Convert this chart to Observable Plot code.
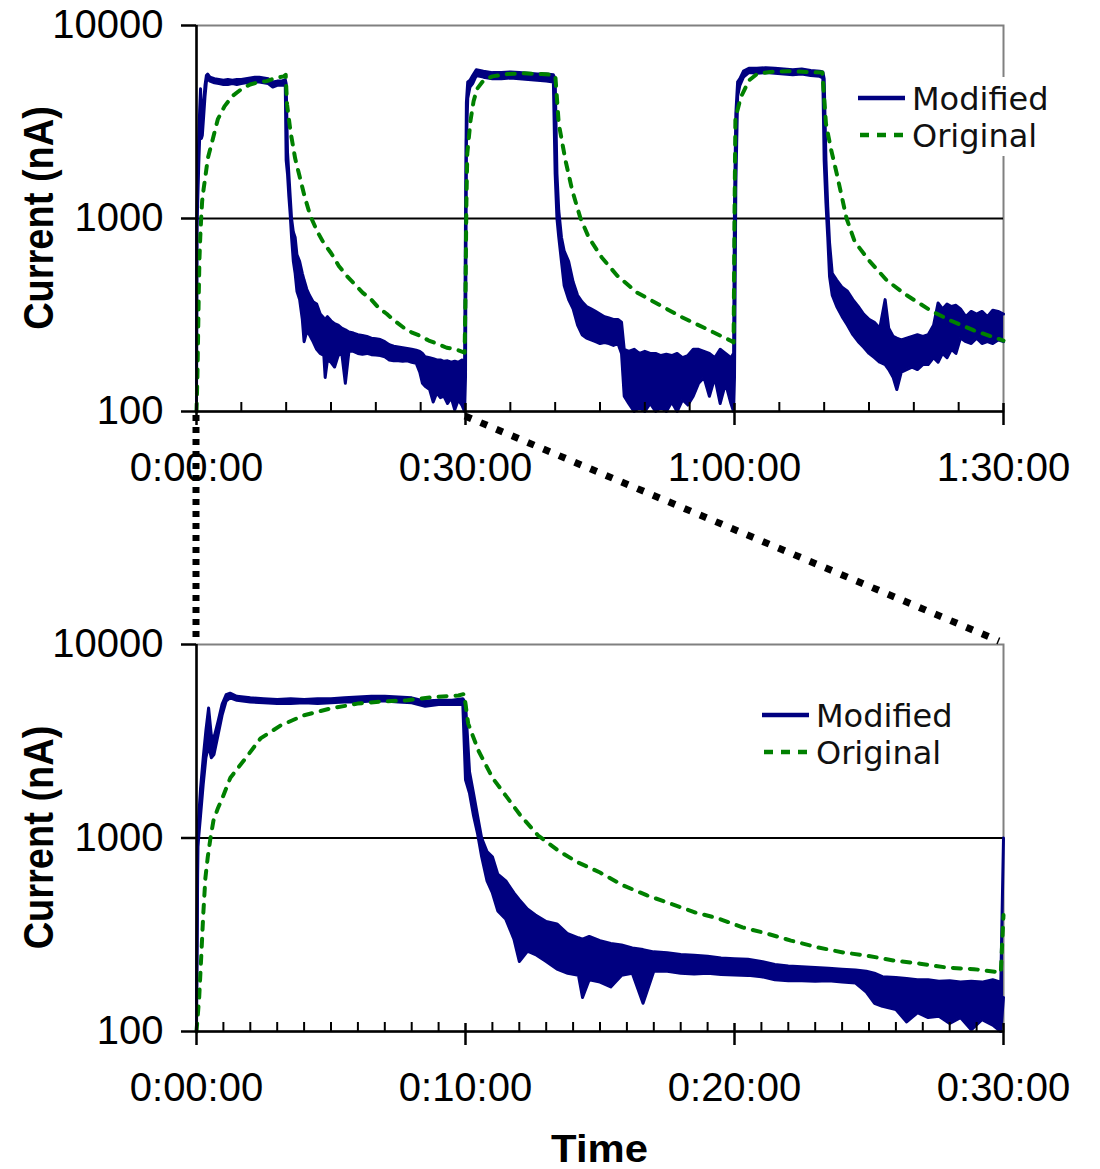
<!DOCTYPE html>
<html>
<head>
<meta charset="utf-8">
<script src="https://cdn.jsdelivr.net/npm/d3@7"></script>
<script src="https://cdn.jsdelivr.net/npm/@observablehq/plot@0.6"></script>
<style>
  html, body { margin: 0; padding: 0; background: #fff; }
  #wrap { position: relative; width: 1100px; height: 1169px; overflow: hidden; background: #fff; }
  #wrap > svg { display: block; }
  #overlay { position: absolute; left: 0; top: 0; pointer-events: none; }
</style>
</head>
<body>
<div id="wrap"></div>
<script>
// ---------------- DATA (time in minutes, current in nA) ----------------
// "Modified" signal is very noisy: stored as a low / high envelope
const modT = [
  0, 0.05, 0.15, 0.25, 0.35, 0.45, 0.55, 0.65, 0.8, 0.95, 1.1, 1.25, 1.5, 2, 2.5, 3, 3.5, 4, 4.5, 5,
  5.5, 6, 6.5, 7, 7.5, 8, 8.5, 9, 9.5, 9.9,
  10, 10.15, 10.3, 10.45, 10.6, 10.8, 11, 11.2, 11.5, 11.8, 12, 12.3, 12.6, 13, 13.4, 13.8, 14.2, 14.35,
  14.6, 15, 15.4, 15.8, 16.2, 16.6, 17, 17.5, 18, 18.5, 19, 19.5, 20, 20.5, 21, 21.5, 22, 22.5, 23,
  23.5, 24, 24.5, 24.9, 25.2, 25.5, 26, 26.4, 26.8, 27.2, 27.6, 28, 28.4, 28.8, 29.2, 29.6, 29.9,
  30, 30.1, 30.25, 30.5, 30.8, 31.2, 32, 33, 34, 35, 36, 37, 38, 39, 39.8,
  40, 40.2, 40.4, 40.7, 41, 41.5, 42, 42.5, 43, 43.5, 44, 44.5, 45, 45.5, 46, 46.5, 47, 47.4, 47.7,
  48.2, 48.8, 49.4, 50, 50.6, 51.2, 51.8, 52.4, 53, 53.6, 54.2, 54.8, 55.4, 56, 56.6, 57.2, 57.8,
  58.4, 59, 59.6, 59.9,
  60, 60.15, 60.35, 60.6, 61, 61.6, 62.5, 63.5, 64.5, 65.5, 66.5, 67.5, 68.5, 69.5, 69.85,
  70, 70.2, 70.4, 70.6, 70.9, 71.4, 72, 72.6, 73.2, 73.8, 74.4, 75, 75.6, 76.2, 76.8, 77.2, 77.7,
  78.1, 78.6, 79.2, 79.8, 80.4, 81, 81.6, 82.2, 82.7, 83.2, 83.7, 84.2, 84.7, 85.2, 85.8, 86.4,
  87, 87.6, 88.2, 88.8, 89.4, 90
];
const modLo = [
  100, 900, 1300, 1900, 2600, 3000, 2600, 2700, 3400, 4300, 5100, 5300, 5150, 5050, 5000, 4950, 4950, 5000, 4950, 5000,
  5050, 5050, 5100, 5100, 5050, 5000, 4800, 4900, 4900, 4900,
  2000, 1700, 1300, 1050, 800, 600, 520, 420, 380, 300, 230, 260, 250, 230, 210, 200, 195, 150,
  185, 180, 170, 195, 200, 140, 205, 205, 200, 198, 200, 197, 196, 195, 192, 185, 183, 183, 182,
  183, 180, 178, 160, 140, 135, 130, 112, 125, 118, 120, 110, 118, 102, 115, 108, 100,
  150, 2500, 4200, 4800, 5000, 5500, 5400, 5300, 5300, 5350, 5300, 5250, 5200, 5150, 5100,
  1700, 1000, 800, 600, 450, 380, 340, 280, 250, 240, 235, 230, 225, 228, 225, 220, 225, 200, 120,
  110, 100, 105, 100, 110, 100, 105, 100, 112, 100, 115, 108, 120, 140, 150, 120, 150,
  110, 140, 110, 100,
  150, 1500, 4300, 4900, 5400, 5700, 5650, 5700, 5650, 5600, 5550, 5600, 5500, 5450, 5350,
  2000, 1200, 800, 500, 400, 350, 310, 280, 250, 230, 215, 200, 190, 180, 175, 165, 150,
  130, 160, 165, 170, 165, 175, 175, 190, 180, 200, 190, 210, 200, 240, 230, 225,
  240, 225, 230, 225, 235, 230
];
const modHi = [
  140, 1100, 1800, 2600, 3600, 4700, 3400, 3300, 4000, 4900, 5500, 5600, 5400, 5300, 5250, 5200, 5250, 5200, 5250, 5250,
  5300, 5350, 5400, 5400, 5350, 5300, 5100, 5150, 5150, 5250,
  5000, 2200, 1700, 1300, 1000, 850, 800, 650, 600, 520, 480, 430, 400, 370, 360, 320, 305, 300,
  310, 295, 285, 280, 270, 265, 258, 255, 250, 248, 245, 240, 238, 236, 230, 222, 218, 216, 214,
  212, 210, 208, 205, 200, 192, 190, 188, 185, 185, 182, 183, 180, 182, 180, 185, 180,
  1000, 4000, 5100, 5200, 5500, 5900, 5800, 5700, 5700, 5750, 5700, 5650, 5600, 5600, 5550,
  5300, 1700, 1100, 800, 680, 600, 470, 400, 370, 350, 340, 330, 320, 310, 305, 300, 300, 290, 210,
  205, 210, 200, 205, 200, 200, 195, 198, 195, 200, 190, 195, 210, 210, 205, 200, 190,
  210, 200, 190, 200,
  1200, 3500, 5100, 5300, 5800, 6000, 6000, 6050, 6000, 5950, 5900, 5950, 5850, 5800, 5750,
  5300, 2000, 1150, 750, 520, 480, 440, 420, 380, 350, 320, 300, 290, 270, 380, 270, 245,
  240, 235, 240, 245, 250, 245, 250, 280, 365, 340, 360, 350, 355, 340, 310, 330,
  320, 330, 310, 335, 330, 320
];
// "Original" smooth response
const origT = [
  0, 0.1, 0.18, 0.25, 0.33, 0.42, 0.52, 0.63, 0.8, 0.97, 1.26, 1.82, 2.38, 3.12, 3.98, 4.98, 5.99,
  6.84, 7.84, 8.8, 9.74, 9.95,
  10.1, 10.48, 11, 11.49, 12.04, 12.7, 13.45, 14.16, 15, 15.87, 16.75, 17.6, 18.55, 19.4, 20.3,
  21.2, 22.1, 23.1, 24.05, 24.9, 25.9, 26.9, 27.9, 28.9, 29.9,
  30, 30.1, 30.2, 30.56, 30.9, 31.3, 32, 33, 34.65, 36.5, 38.5, 39.9,
  40.03, 40.4, 41.15, 41.9, 42.8, 43.75, 45.2, 46.9, 49.1, 51.75, 54.2, 56.8, 59.55, 59.9,
  60, 60.1, 60.7, 61.6, 62.5, 64, 66, 68, 69.8,
  70.2, 70.75, 71.4, 72.5, 73.4, 75, 77, 79.25, 81.9, 84.1, 86.7, 90
];
const origV = [
  100, 150, 250, 400, 620, 800, 1000, 1230, 1430, 1620, 2050, 2580, 3270, 3810, 4300, 4670, 4950,
  5070, 5150, 5350, 5450, 5550,
  3900, 2830, 2050, 1660, 1310, 1030, 860, 750, 663, 568, 505, 459, 412, 384, 345,
  321, 295, 272, 256, 247, 233, 224, 214, 210, 202,
  400, 1200, 2170, 3220, 4050, 4700, 5190, 5450, 5600, 5650, 5600, 5550,
  5400, 3100, 2000, 1400, 1010, 797, 628, 507, 414, 354, 307, 269, 233, 228,
  1000, 3300, 4240, 5190, 5600, 5750, 5800, 5750, 5700,
  3100, 2300, 1710, 1000, 760, 606, 477, 399, 333, 296, 263, 233
];
const seriesNames = ["Modified", "Original"];
const yTicks = [100, 1000, 10000];
const yTickLabels = ["100", "1000", "10000"];
const topTicks = [0, 30, 60, 90];
const topTickLabels = ["0:00:00", "0:30:00", "1:00:00", "1:30:00"];
const botTicks = [0, 10, 20, 30];
const botTickLabels = ["0:00:00", "0:10:00", "0:20:00", "0:30:00"];
const yTitle = "Current (nA)";
const xTitle = "Time";

// ---------------- BUILD ----------------
const NAVY = "#000080", GREEN = "#008000";
const mod = modT.map((t, i) => ({t, lo: modLo[i], hi: modHi[i]}));
const orig = origT.map((t, i) => ({t, v: origV[i]}));

function panel({xMax, height, mt, mb, ticks, labels, minorStep}) {
  const innerH = height - mt - mb;
  const modData = mod.filter(d => d.t <= xMax);
  const origData = orig.filter(d => d.t <= xMax);
  const minor = d3.range(0, xMax + 1e-9, minorStep).filter(v => !ticks.includes(v));
  return Plot.plot({
    width: 1100, height,
    marginLeft: 196, marginRight: 97, marginTop: mt, marginBottom: mb,
    x: {domain: [0, xMax], label: null},
    y: {type: "log", domain: [100, 10000], label: null},
    style: {fontFamily: "'Liberation Sans', Arial, sans-serif", fontSize: "40px", color: "black", background: "white", overflow: "visible"},
    marks: [
      Plot.frame({stroke: "#808080", strokeWidth: 2}),
      Plot.ruleY([1000], {stroke: "black", strokeWidth: 2}),
      Plot.areaY(modData, {x: "t", y1: "lo", y2: "hi", fill: NAVY}),
      Plot.line(modData, {x: "t", y: "lo", stroke: NAVY, strokeWidth: 3}),
      Plot.line(modData, {x: "t", y: "hi", stroke: NAVY, strokeWidth: 3}),
      Plot.line(origData, {x: "t", y: "v", stroke: GREEN, strokeWidth: 4, strokeDasharray: "8,9"}),
      Plot.ruleX([0], {stroke: "black", strokeWidth: 2.5}),
      Plot.ruleY([100], {stroke: "black", strokeWidth: 2.5}),
      Plot.ruleX(minor, {x: d => d, stroke: "black", strokeWidth: 2, insetTop: innerH - 9}),
      Plot.ruleX(ticks, {x: d => d, stroke: "black", strokeWidth: 2.5, insetTop: innerH - 8, insetBottom: -14}),
      Plot.axisY({ticks: yTicks, tickFormat: d => yTickLabels[yTicks.indexOf(d)], tickSize: 15, tickPadding: 18, strokeWidth: 2.5, label: null}),
      Plot.axisX({ticks, tickFormat: d => labels[ticks.indexOf(d)], tickSize: 0, tickPadding: 41, label: null})
    ]
  });
}

const wrap = document.getElementById("wrap");
const TOP_H = 560, BOT_H = 609;
const topPlot = panel({xMax: 90, height: TOP_H, mt: 25, mb: 149, ticks: topTicks, labels: topTickLabels, minorStep: 5});
const botPlot = panel({xMax: 30, height: BOT_H, mt: 84, mb: 138, ticks: botTicks, labels: botTickLabels, minorStep: 1});
wrap.appendChild(topPlot);
wrap.appendChild(botPlot);

// ---------------- OVERLAY: zoom connectors, titles, legends ----------------
const sxT = topPlot.scale("x"), syT = topPlot.scale("y");
const sxB = botPlot.scale("x"), syB = botPlot.scale("y");
const off = TOP_H;
const ov = d3.select(wrap).append("svg").attr("id", "overlay").attr("width", 1100).attr("height", 1169);

// connectors: top panel's [0,30] min range -> bottom panel frame
ov.append("line")
  .attr("x1", sxT.apply(0)).attr("y1", syT.apply(100) + 4)
  .attr("x2", sxB.apply(0)).attr("y2", syB.apply(10000) + off - 4)
  .attr("stroke", "black").attr("stroke-width", 7).attr("stroke-dasharray", "6,6");
ov.append("line")
  .attr("x1", sxT.apply(30)).attr("y1", syT.apply(100) + 5)
  .attr("x2", sxB.apply(30) - 4).attr("y2", syB.apply(10000) + off - 3)
  .attr("stroke", "black").attr("stroke-width", 7).attr("stroke-dasharray", "7,10");

// axis titles
const titleFont = "'Liberation Sans', Arial, sans-serif";
[[syT, 0], [syB, off]].forEach(([sy, o]) => {
  const cy = (sy.range[0] + sy.range[1]) / 2 + o;
  ov.append("text").text(yTitle)
    .attr("transform", `translate(53,${cy}) scale(1.1,1) rotate(-90)`)
    .attr("text-anchor", "middle").attr("font-family", titleFont)
    .attr("font-weight", "bold").attr("font-size", 38);
});
ov.append("text").text(xTitle)
  .attr("transform", `translate(${(sxB.range[0] + sxB.range[1]) / 2},1162) scale(1.1,1)`)
  .attr("text-anchor", "middle").attr("font-family", titleFont)
  .attr("font-weight", "bold").attr("font-size", 38);

// legends
function legend(x0, yMod, yOrig, bg) {
  const g = ov.append("g");
  if (bg) g.append("rect").attr("x", x0 - 6).attr("y", yMod - 21).attr("width", 204).attr("height", yOrig - yMod + 42).attr("fill", "white");
  g.append("line").attr("x1", x0).attr("x2", x0 + 47).attr("y1", yMod).attr("y2", yMod)
    .attr("stroke", NAVY).attr("stroke-width", 4.5);
  g.append("line").attr("x1", x0 + 2).attr("x2", x0 + 47).attr("y1", yOrig).attr("y2", yOrig)
    .attr("stroke", GREEN).attr("stroke-width", 4.5).attr("stroke-dasharray", "9,8");
  [[seriesNames[0], yMod], [seriesNames[1], yOrig]].forEach(([name, y]) => {
    g.append("text").text(name).attr("x", x0 + 54).attr("y", y + 12)
      .attr("font-family", "'DejaVu Sans', Verdana, sans-serif").attr("font-size", 32).attr("fill", "#111");
  });
}
legend(858, 98, 135, true);
legend(762, 715, 752, false);
</script>
</body>
</html>
